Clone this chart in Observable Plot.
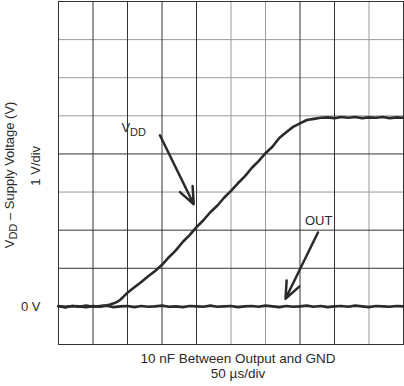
<!DOCTYPE html>
<html><head><meta charset="utf-8">
<script src="https://cdn.jsdelivr.net/npm/d3@7"></script>
<script src="https://cdn.jsdelivr.net/npm/@observablehq/plot@0.6"></script>
<style>
html,body{margin:0;padding:0;background:#fff;}
#chart svg{display:block;font-family:"Liberation Sans",Arial,Helvetica,sans-serif;}
</style></head><body><div id="chart"></div>
<script>
// time in µs (50 µs/div), voltage in V (1 V/div)
const timeTicks = [0,50,100,150,200,250,300,350,400,450,500];
const lightTimeTicks = [250,300,450];
const voltTicks = [-1,0,1,2,3,4,5,6,7,8];
const lightVoltTicks = [3,5,6,7];

const vddTime = [0,10,20,30,40,50,60,65,70,75,80,85,90,95,100,110,120,130,140,150,160,170,180,190,200,210,220,230,240,250,260,270,280,290,300,310,320,330,340,350,360,370,380,390,400,410,420,430,440,450,460,470,480,490,500];
const vddVolts = [0.01,-0.02,0.01,-0.01,0.02,-0.01,0.01,0.02,0.03,0.05,0.08,0.12,0.18,0.27,0.36,0.50,0.64,0.79,0.93,1.09,1.29,1.47,1.69,1.87,2.08,2.26,2.47,2.64,2.85,3.03,3.23,3.41,3.63,3.81,4.02,4.19,4.42,4.57,4.71,4.80,4.89,4.92,4.95,4.96,4.94,4.97,4.95,4.97,4.94,4.96,4.95,4.97,4.94,4.96,4.95];

const outTime = [0,10,20,30,40,50,60,70,80,90,100,110,120,130,140,150,160,170,180,190,200,210,220,230,240,250,260,270,280,290,300,310,320,330,340,350,360,370,380,390,400,410,420,430,440,450,460,470,480,490,500];
const outVolts = [0.00,-0.02,0.01,0.00,-0.02,0.01,-0.01,0.02,-0.02,0.00,0.01,-0.02,0.01,-0.01,0.00,0.02,-0.01,0.00,-0.02,0.01,0.00,-0.01,0.02,-0.01,0.00,0.01,-0.02,0.00,0.01,-0.01,0.02,0.00,-0.02,0.01,-0.01,0.00,0.02,-0.01,0.01,-0.02,0.00,0.01,-0.01,0.02,0.00,-0.02,0.01,0.00,-0.01,0.01,0.00];

const arrowX1 = [147, 376];
const arrowY1 = [4.49, 1.94];
const arrowX2 = [196, 329];
const arrowY2 = [2.68, 0.2];

const seriesLabels = ["VDD", "OUT"];
const labelTime = [109, 377];
const labelVolts = [4.68, 2.25];

const yTitle = "VDD – Supply Voltage (V)";
const yScaleNote = "1 V/div";
const zeroLabel = "0 V";
const captionLine1 = "10 nF Between Output and GND";
const captionLine2 = "50 µs/div";

const vdd = vddTime.map((t, i) => ({t, v: vddVolts[i]}));
const out = outTime.map((t, i) => ({t, v: outVolts[i]}));
const arrows = arrowX1.map((x1, i) => ({x1, y1: arrowY1[i], x2: arrowX2[i], y2: arrowY2[i]}));
const labels = seriesLabels.map((s, i) => ({s, t: labelTime[i], v: labelVolts[i]}));
const darkT = timeTicks.filter(t => !lightTimeTicks.includes(t));
const darkV = voltTicks.filter(v => !lightVoltTicks.includes(v));

const ink = "#2a2a2a";
const chart = Plot.plot({
  width: 404, height: 386,
  marginLeft: 58, marginRight: 1, marginTop: 1, marginBottom: 42,
  x: {domain: [0, 500], axis: null},
  y: {domain: [-1, 8], axis: null},
  style: {fontFamily: '"Liberation Sans", Arial, sans-serif', fontSize: "13px", color: ink, background: "#fff"},
  marks: [
    Plot.ruleX(lightTimeTicks, {stroke: "#9a9a9a", strokeWidth: 1}),
    Plot.ruleY(lightVoltTicks, {stroke: "#9a9a9a", strokeWidth: 1}),
    Plot.ruleX(darkT, {stroke: "#333", strokeWidth: 1}),
    Plot.ruleY(darkV, {stroke: "#333", strokeWidth: 1}),
    Plot.frame({stroke: "#333", strokeWidth: 1}),
    Plot.line(out, {x: "t", y: "v", stroke: ink, strokeWidth: 2.6, strokeLinejoin: "round"}),
    Plot.line(vdd, {x: "t", y: "v", stroke: ink, strokeWidth: 2.6, strokeLinejoin: "round"}),
    Plot.arrow(arrows, {x1: "x1", y1: "y1", x2: "x2", y2: "y2", stroke: ink, strokeWidth: 2.5, headLength: 11, headAngle: 45}),
    Plot.text(labels, {x: "t", y: "v", text: "s", textAnchor: d => d.s === "OUT" ? "middle" : "start", fill: ink, fontSize: 13}),
    Plot.text([yTitle], {frameAnchor: "left", y: () => 3.45, dx: -49, rotate: -90, textAnchor: "middle", fill: ink, fontSize: 13}),
    Plot.text([yScaleNote], {frameAnchor: "left", y: () => 3.69, dx: -23, rotate: -90, textAnchor: "middle", fill: ink, fontSize: 13}),
    Plot.text([zeroLabel], {frameAnchor: "left", y: () => 0, dx: -18, textAnchor: "end", fill: ink, fontSize: 13}),
    Plot.text([captionLine1], {frameAnchor: "bottom", dx: 7, dy: 18, fill: ink, fontSize: 13.5}),
    Plot.text([captionLine2], {frameAnchor: "bottom", dx: 7, dy: 33, fill: ink, fontSize: 13.5})
  ]
});

// subscript "DD" in V_DD
d3.select(chart).selectAll("text").each(function() {
  const txt = this.textContent;
  if (txt.startsWith("VDD")) {
    const rest = txt.slice(3);
    const el = d3.select(this);
    el.text(null);
    el.append("tspan").text("V");
    el.append("tspan").attr("dy", 3.5).attr("font-size", 11).text("DD");
    if (rest) el.append("tspan").attr("dy", -3.5).text(rest);
  }
});

document.getElementById("chart").appendChild(chart);
</script></body></html>
